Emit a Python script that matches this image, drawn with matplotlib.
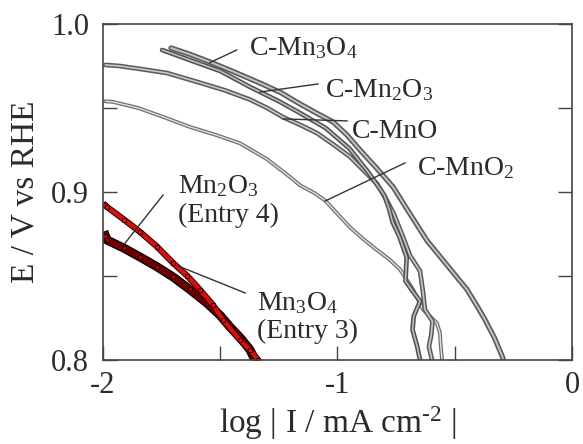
import matplotlib
matplotlib.use('Agg')
import matplotlib.pyplot as plt
import matplotlib.patheffects as pe

plt.rcParams['font.family'] = ['Liberation Serif', 'DejaVu Serif']
plt.rcParams['mathtext.fontset'] = 'custom'
plt.rcParams['mathtext.rm'] = 'Liberation Serif'
plt.rcParams['mathtext.it'] = 'Liberation Serif:italic'

# Tafel curves, log|I| (mA cm-2) vs E (V vs RHE)
c_mn3o4_x = [-1.71, -1.63, -1.544, -1.45, -1.322, -1.24, -1.16, -1.09, -1.019, -0.96, -0.904,
             -0.832, -0.763, -0.70, -0.618, -0.53, -0.448, -0.40, -0.371, -0.33, -0.294]
c_mn3o4_y = [0.9857, 0.982, 0.9774, 0.972, 0.9643, 0.959, 0.9524, 0.947, 0.9417, 0.934, 0.925,
             0.914, 0.903, 0.889, 0.871, 0.856, 0.842, 0.831, 0.824, 0.813, 0.801]

c_mn2o3_x = [-1.748, -1.6, -1.5, -1.373, -1.25, -1.16, -1.05, -0.95, -0.87, -0.80,
             -0.78, -0.765, -0.735, -0.705, -0.71, -0.68, -0.648, -0.675, -0.68, -0.66, -0.648]
c_mn2o3_y = [0.9845, 0.977, 0.972, 0.9625, 0.954, 0.947, 0.938, 0.926, 0.912, 0.898,
             0.890, 0.882, 0.873, 0.861, 0.847, 0.841, 0.835, 0.826, 0.818, 0.808, 0.800]

c_mno_x = [-1.99, -1.93, -1.83, -1.727, -1.586, -1.48, -1.373, -1.30, -1.232, -1.16, -1.087,
           -1.02, -0.947, -0.89, -0.832, -0.79, -0.76, -0.72, -0.69, -0.648, -0.635, -0.627,
           -0.595, -0.60, -0.61, -0.597]
c_mno_y = [0.9756, 0.975, 0.973, 0.9708, 0.965, 0.9605, 0.955, 0.950, 0.9445, 0.940, 0.935,
           0.9285, 0.921, 0.913, 0.905, 0.895, 0.887, 0.873, 0.862, 0.853, 0.840, 0.830,
           0.823, 0.815, 0.808, 0.800]

c_mno2_x = [-1.99, -1.957, -1.85, -1.75, -1.629, -1.52, -1.416, -1.30, -1.203, -1.16, -1.10,
            -1.053, -1.0, -0.947, -0.89, -0.832, -0.78, -0.734, -0.678, -0.635, -0.576,
            -0.563, -0.56, -0.554]
c_mno2_y = [0.954, 0.9536, 0.950, 0.945, 0.9387, 0.934, 0.929, 0.9195, 0.909, 0.904, 0.8995,
            0.895, 0.887, 0.879, 0.872, 0.8655, 0.860, 0.854, 0.842, 0.830, 0.822,
            0.816, 0.809, 0.800]

mn2o3_x = [-1.99, -1.983, -1.91, -1.842, -1.77, -1.701, -1.64, -1.586, -1.53, -1.488, -1.416,
           -1.373, -1.339]
mn2o3_y = [0.892, 0.8911, 0.8835, 0.8762, 0.8675, 0.8577, 0.850, 0.8417, 0.8325, 0.8238,
           0.8119, 0.806, 0.800]

mn3o4_x = [-1.99, -1.983, -1.91, -1.842, -1.77, -1.701, -1.63, -1.557, -1.50, -1.458,
           -1.41, -1.373, -1.352]
mn3o4_y = [0.874, 0.8714, 0.8665, 0.8613, 0.8555, 0.8494, 0.842, 0.8339, 0.8265, 0.8196,
           0.8125, 0.806, 0.800]

txt = '#2b2b2b'

fig = plt.figure(figsize=(5.83, 4.44), dpi=100)
ax = fig.add_axes([0.1767, 0.1892, 0.8044, 0.7568])


def hollow(x, y, outer, inner, wo=3.4, wi=1.2):
    ax.plot(x, y, color=inner, lw=wi, solid_capstyle='round', solid_joinstyle='round',
            path_effects=[pe.Stroke(linewidth=wo, foreground=outer), pe.Normal()])


hollow(c_mno2_x, c_mno2_y, '#707070', '#e0e0e0', 2.8, 1.0)
hollow(c_mno_x, c_mno_y, '#5a5a5a', '#c8c8c8')
hollow(c_mn2o3_x, c_mn2o3_y, '#505050', '#bdbdbd')
hollow(c_mn3o4_x, c_mn3o4_y, '#5a5a5a', '#c4c4c4', 3.8, 1.4)

ax.plot(mn3o4_x, mn3o4_y, color='#6a0000', lw=4.5, solid_joinstyle='round',
        path_effects=[pe.Stroke(linewidth=6.5, foreground='#140000'), pe.Normal()])
ax.plot(mn3o4_x, mn3o4_y, ls='none', marker='s', ms=3.5, mfc='#b00000', mec='#200000', mew=0.6)
ax.plot(mn2o3_x, mn2o3_y, color='#d41010', lw=3.0, solid_joinstyle='round',
        path_effects=[pe.Stroke(linewidth=4.5, foreground='#3a0000'), pe.Normal()])
ax.plot(mn2o3_x, mn2o3_y, ls='none', marker='s', ms=3.5, mfc='#e01010', mec='#300000', mew=0.6)

# labels with leader lines
lc = '#333333'
fs = 20
ax.plot([-1.544, -1.43], [0.977, 0.9845], color=lc, lw=1)
ax.text(-1.377, 0.9815, r'C-Mn$_3$O$_4$', fontsize=fs, color=txt, va='baseline')
ax.plot([-1.330, -1.083], [0.9595, 0.9643], color=lc, lw=1)
ax.text(-1.053, 0.9565, r'C-Mn$_2$O$_3$', fontsize=fs, color=txt, va='baseline')
ax.plot([-1.232, -0.959], [0.9435, 0.9423], color=lc, lw=1)
ax.text(-0.938, 0.932, 'C-MnO', fontsize=fs, color=txt, va='baseline')
ax.plot([-1.053, -0.712], [0.8946, 0.9173], color=lc, lw=1)
ax.text(-0.661, 0.9101, r'C-MnO$_2$', fontsize=fs, color=txt, va='baseline')
ax.plot([-1.906, -1.744], [0.8696, 0.8982], color=lc, lw=1)
ax.text(-1.680, 0.8994, r'Mn$_2$O$_3$', fontsize=fs, color=txt, va='baseline')
ax.text(-1.680, 0.8821, '(Entry 4)', fontsize=fs, color=txt, va='baseline')
ax.plot([-1.680, -1.394], [0.856, 0.8399], color=lc, lw=1)
ax.text(-1.343, 0.8298, r'Mn$_3$O$_4$', fontsize=fs, color=txt, va='baseline')
ax.text(-1.343, 0.8131, '(Entry 3)', fontsize=fs, color=txt, va='baseline')

ax.set_xlim(-2, 0)
ax.set_ylim(0.8, 1.0)
ax.set_xticks([-2, -1, 0])
ax.set_xticklabels(['-2', '-1', '0'])
ax.set_xticks([-1.5, -0.5], minor=True)
ax.set_yticks([0.8, 0.9, 1.0])
ax.set_yticklabels(['0.8', '0.9', '1.0'])
ax.set_yticks([0.85, 0.95], minor=True)
ax.tick_params(which='both', direction='in', length=10, width=1, color='#444444',
               labelsize=22, labelcolor=txt, right=True, top=False)
ax.tick_params(axis='y', pad=10)
ax.tick_params(axis='x', pad=8)
for s in ax.spines.values():
    s.set_color('#444444')
    s.set_linewidth(1.2)

ax.set_xlabel('log | I / mA cm$^{\u20102}$ |', fontsize=24, color=txt, labelpad=3)
ax.set_ylabel('E / V vs RHE', fontsize=24, color=txt, labelpad=8)

fig.savefig('out.png', dpi=100)
